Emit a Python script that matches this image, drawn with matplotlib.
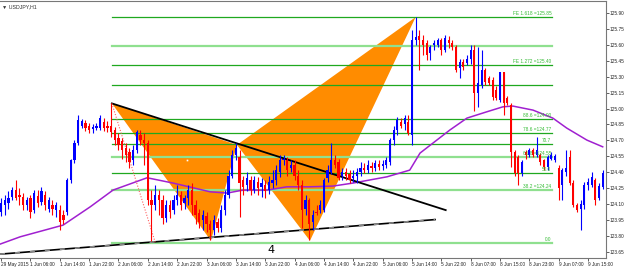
# USDJPY H1 chart with a harmonic pattern and fibonacci levels
import numpy as np
import matplotlib.pyplot as plt

# OHLC bars (H1), index 0 = 29 May 22:00
opens = [124.03, 124.09, 124.11, 124.17, 124.23, 124.19, 124.17, 124.09, 124.16, 124.05,
         124.18, 124.12, 124.19, 124.06, 124.09, 124.05, 124.05, 124.00, 124.03, 124.33,
         124.52, 124.68, 124.84, 124.86, 124.84, 124.81, 124.82, 124.82, 124.87, 124.84,
         124.84, 124.80, 124.72, 124.69, 124.63, 124.59, 124.52, 124.61, 124.75, 124.70,
         124.68, 124.14, 124.09, 124.19, 124.14, 123.97, 124.09, 124.05, 124.14, 124.19,
         124.11, 124.16, 124.23, 124.09, 124.02, 123.95, 123.99, 123.91, 123.86, 123.93,
         123.88, 124.05, 124.19, 124.37, 124.56, 124.54, 124.33, 124.28, 124.33, 124.23,
         124.31, 124.26, 124.28, 124.23, 124.30, 124.33, 124.40, 124.52, 124.52, 124.44,
         124.47, 124.37, 124.28, 124.06, 124.14, 123.93, 124.03, 124.05, 124.05, 124.35,
         124.40, 124.52, 124.50, 124.37, 124.40, 124.38, 124.35, 124.37, 124.40, 124.44,
         124.42, 124.46, 124.44, 124.48, 124.46, 124.47, 124.50, 124.70, 124.80, 124.87,
         124.85, 124.87, 124.75, 125.64, 125.68, 125.64, 125.62, 125.52, 125.60, 125.60,
         125.64, 125.55, 125.64, 125.62, 125.58, 125.38, 125.44, 125.43, 125.47, 125.55,
         125.15, 125.22, 125.36, 125.29, 125.27, 125.17, 125.08, 125.34, 125.10, 125.03,
         124.59, 124.54, 124.39, 124.59, 124.56, 124.61, 124.56, 124.56, 124.52, 124.45,
         124.53, 124.52, 124.44, 124.28, 124.40, 124.54, 124.30, 124.09, 124.06, 124.09,
         124.28, 124.28, 124.33, 124.16, 124.26]
highs = [124.16, 124.19, 124.22, 124.26, 124.33, 124.25, 124.21, 124.17, 124.19, 124.23,
         124.23, 124.26, 124.22, 124.17, 124.14, 124.12, 124.09, 124.05, 124.35, 124.53,
         124.70, 124.94, 124.90, 124.89, 124.86, 124.85, 124.86, 124.94, 124.91, 124.88,
         125.05, 124.83, 124.77, 124.72, 124.68, 124.63, 124.66, 124.80, 124.80, 124.77,
         124.70, 124.23, 124.28, 124.23, 124.19, 124.14, 124.14, 124.19, 124.28, 124.22,
         124.19, 124.28, 124.30, 124.14, 124.06, 124.05, 124.03, 123.95, 124.00, 123.97,
         124.09, 124.23, 124.42, 124.61, 124.68, 124.61, 124.37, 124.40, 124.37, 124.37,
         124.36, 124.35, 124.33, 124.37, 124.42, 124.47, 124.56, 124.56, 124.54, 124.52,
         124.52, 124.42, 124.33, 124.19, 124.16, 124.05, 124.09, 124.14, 124.35, 124.47,
         124.68, 124.56, 124.53, 124.44, 124.44, 124.42, 124.42, 124.44, 124.50, 124.49,
         124.52, 124.50, 124.52, 124.52, 124.52, 124.54, 124.72, 124.84, 124.92, 124.91,
         124.94, 124.94, 125.74, 125.86, 125.74, 125.69, 125.64, 125.60, 125.64, 125.66,
         125.66, 125.69, 125.68, 125.64, 125.60, 125.47, 125.47, 125.50, 125.60, 125.60,
         125.58, 125.55, 125.38, 125.31, 125.30, 125.21, 125.34, 125.34, 125.12, 125.05,
         124.61, 124.56, 124.52, 124.61, 124.63, 124.63, 124.73, 124.58, 124.53, 124.56,
         124.59, 124.57, 124.47, 124.44, 124.61, 124.61, 124.33, 124.11, 124.14, 124.31,
         124.35, 124.40, 124.35, 124.30, 124.42]
lows = [123.99, 124.00, 124.06, 124.14, 124.14, 124.09, 124.05, 124.05, 123.97, 124.02,
        124.07, 124.09, 124.05, 124.03, 124.00, 123.98, 123.86, 123.91, 124.00, 124.30,
        124.49, 124.66, 124.82, 124.79, 124.77, 124.77, 124.80, 124.80, 124.79, 124.78,
        124.73, 124.66, 124.61, 124.53, 124.50, 124.44, 124.47, 124.58, 124.66, 124.47,
        124.09, 123.75, 124.05, 124.00, 123.91, 123.93, 123.97, 124.01, 124.09, 124.05,
        124.06, 124.09, 124.00, 123.91, 123.88, 123.86, 123.84, 123.76, 123.81, 123.84,
        123.84, 124.00, 124.16, 124.35, 124.52, 123.98, 124.19, 124.22, 124.19, 124.21,
        124.19, 124.17, 124.16, 124.20, 124.25, 124.28, 124.36, 124.47, 124.37, 124.40,
        124.33, 124.23, 123.88, 124.00, 123.76, 123.86, 124.00, 124.02, 124.03, 124.31,
        124.38, 124.44, 124.33, 124.33, 124.33, 124.30, 124.31, 124.30, 124.37, 124.39,
        124.39, 124.40, 124.41, 124.42, 124.42, 124.44, 124.47, 124.66, 124.75, 124.82,
        124.80, 124.75, 124.66, 125.60, 125.36, 125.50, 125.46, 125.46, 125.55, 125.58,
        125.50, 125.53, 125.57, 125.55, 125.34, 125.29, 125.36, 125.41, 125.42, 124.98,
        125.01, 125.19, 125.22, 125.22, 125.08, 125.08, 125.06, 124.94, 125.03, 124.45,
        124.37, 124.28, 124.37, 124.53, 124.54, 124.54, 124.54, 124.47, 124.42, 124.42,
        124.52, 124.50, 124.14, 124.14, 124.37, 124.28, 124.07, 124.03, 123.86, 124.06,
        124.23, 124.26, 124.09, 124.14, 124.24]
closes = [124.11, 124.14, 124.16, 124.23, 124.16, 124.17, 124.09, 124.14, 124.03, 124.21,
          124.11, 124.22, 124.09, 124.14, 124.06, 124.09, 123.93, 123.95, 124.33, 124.52,
          124.68, 124.89, 124.88, 124.82, 124.80, 124.83, 124.84, 124.91, 124.82, 124.82,
          124.78, 124.70, 124.66, 124.61, 124.56, 124.50, 124.61, 124.78, 124.70, 124.68,
          124.14, 124.09, 124.19, 124.14, 123.97, 124.09, 124.03, 124.14, 124.19, 124.09,
          124.16, 124.23, 124.09, 124.00, 123.93, 124.00, 123.91, 123.86, 123.95, 123.88,
          124.05, 124.19, 124.37, 124.56, 124.63, 124.30, 124.26, 124.35, 124.23, 124.33,
          124.25, 124.30, 124.22, 124.31, 124.33, 124.42, 124.52, 124.53, 124.42, 124.47,
          124.37, 124.28, 124.05, 124.14, 123.91, 124.00, 124.02, 124.09, 124.33, 124.42,
          124.52, 124.47, 124.35, 124.40, 124.37, 124.33, 124.37, 124.40, 124.44, 124.42,
          124.47, 124.44, 124.49, 124.45, 124.48, 124.52, 124.70, 124.80, 124.89, 124.84,
          124.91, 124.77, 125.64, 125.67, 125.64, 125.60, 125.50, 125.58, 125.62, 125.64,
          125.55, 125.66, 125.62, 125.58, 125.36, 125.44, 125.39, 125.47, 125.55, 125.15,
          125.24, 125.36, 125.25, 125.24, 125.11, 125.10, 125.34, 125.05, 125.05, 124.59,
          124.39, 124.39, 124.50, 124.56, 124.61, 124.56, 124.61, 124.50, 124.45, 124.54,
          124.56, 124.55, 124.25, 124.42, 124.44, 124.30, 124.09, 124.05, 124.10, 124.28,
          124.31, 124.36, 124.14, 124.27, 124.39]

# moving average, read at a few bars
ma_x = [-0.3, 5.2, 16.9, 24.3, 30.5, 39.8, 46.9, 57, 61.6, 65.9, 72.5, 77.9, 84.2, 90.5,
        95.9, 105.2, 111.4, 114.2, 122.3, 127, 132.4, 136.8, 139.5, 145, 150.4, 154.2, 159.7, 164]
ma_y = [123.725, 123.794, 123.904, 124.076, 124.233, 124.349, 124.299, 124.217, 124.205,
        124.233, 124.233, 124.264, 124.264, 124.271, 124.299, 124.358, 124.421, 124.581,
        124.797, 124.910, 124.969, 125.016, 125.023, 124.985, 124.910, 124.816, 124.703, 124.640]

# fibonacci / expansion levels
fib_prices = [125.86, 125.59, 125.405, 125.217, 124.90, 124.77, 124.663, 124.546, 124.39, 124.233, 123.732]
fib_labels = ['FE 1.618 =125.85', '', 'FE 1.272 =125.40', '', '88.6 =124.90', '78.6 =124.77',
              '70.7', '61.8 =124.55', '50.0', '38.2 =124.24', '0.0']
fib_light = [False, True, False, False, False, False, False, True, False, True, True]
fib_start, fib_end = 30.2, 150.2

# harmonic pattern points (bar, price)
px = [30.2, 57.2, 64.3, 113.0, 84.2]
py = [125.048, 123.757, 124.658, 125.859, 123.757]

tick_pos = list(range(0, 161, 8))
tick_lbl = ['29 May 2015', '1 Jun 06:00', '1 Jun 14:00', '1 Jun 22:00', '2 Jun 06:00',
            '2 Jun 14:00', '2 Jun 22:00', '3 Jun 06:00', '3 Jun 14:00', '3 Jun 22:00',
            '4 Jun 06:00', '4 Jun 14:00', '4 Jun 22:00', '5 Jun 06:00', '5 Jun 14:00',
            '5 Jun 22:00', '8 Jun 07:00', '8 Jun 15:00', '8 Jun 23:00', '9 Jun 07:00',
            '9 Jun 15:00']
y_ticks = [125.90, 125.75, 125.60, 125.45, 125.30, 125.15, 125.00, 124.85,
           124.70, 124.55, 124.40, 124.25, 124.10, 123.95, 123.80, 123.65]

small = ['Liberation Sans', 'DejaVu Sans']

fig = plt.figure(figsize=(6.25, 2.68), dpi=100)
ax = fig.add_axes([0.0, 0.037, 0.9696, 0.959])

# orange triangles XAB and BCD
ax.fill([px[0], px[1], px[2]], [py[0], py[1], py[2]], color='#FF8C00', lw=0, zorder=1)
ax.fill([px[2], px[3], px[4]], [py[2], py[3], py[4]], color='#FF8C00', lw=0, zorder=1)
ax.plot([185.7 / 3.67], [124.52], marker='s', ms=1.2, color='white', mew=0, zorder=2)

# fib lines
for p, lab, light in zip(fib_prices, fib_labels, fib_light):
    if light:
        ax.plot([fib_start, fib_end], [p, p], color='#8FE08F', lw=1.6, zorder=2)
    else:
        ax.plot([fib_start, fib_end], [p, p], color='#1FA81F', lw=0.9, zorder=2)
    if lab:
        ax.text(fib_end - 0.2, p + 0.012, lab, fontsize=3.4, color='#33BB33',
                family=small, ha='right', va='bottom', zorder=6)

# trend lines
ax.plot([30.2, 121.2], [125.048, 124.045], color='black', lw=1.3, zorder=4)
ax.plot([-0.3, 118.3], [123.631, 123.956], color='black', lw=1.2, zorder=4)
ax.plot([-0.3, 118.3], [123.631, 123.956], color='#888888', lw=1.2, ls=(0, (3, 6)), zorder=4)
ax.plot([30.2, 42.0], [125.048, 123.744], color='#FF6060', lw=0.8, ls=(0, (1, 1.5)), zorder=4)

# candles
idx = np.arange(len(opens))
o = np.array(opens)
c = np.array(closes)
up = c >= o
cols = np.where(up, '#0000FF', '#FF0000')
ax.vlines(idx, lows, highs, colors=cols, lw=0.8, zorder=5)
body = np.where(np.abs(c - o) < 0.008, 0.008, c - o)
ax.bar(idx, body, bottom=o, width=0.6, color=cols, lw=0, zorder=5)

# moving average
ax.plot(ma_x, ma_y, color='#A020D0', lw=1.1, zorder=3)

ax.text(73.5, 123.62, '4', fontsize=8, color='black', ha='center', va='bottom', zorder=6)

ax.set_xlim(-0.3, 164.9)
ax.set_ylim(123.594, 126.01)
ax.set_xticks(tick_pos)
ax.set_xticklabels(tick_lbl, ha='left')
ax.set_yticks(y_ticks)
ax.set_yticklabels(['%.2f' % v for v in y_ticks])
ax.yaxis.tick_right()
for t in ax.get_xticklabels() + ax.get_yticklabels():
    t.set_family(small)
    t.set_fontsize(3.4)
    t.set_color('#222222')
ax.tick_params(axis='both', length=2, width=0.6, pad=0.6, colors='#444444')
ax.tick_params(axis='both', labelcolor='#222222')
for s in ['left', 'right', 'top', 'bottom']:
    ax.spines[s].set_color('#777777')
    ax.spines[s].set_linewidth(0.8)
ax.spines['left'].set_visible(False)

fig.text(0.004, 0.985, '\u25bc USDJPY,H1', fontsize=3.8, color='#333333', ha='left', va='top',
         family=small)

fig.savefig('out.png', dpi=100, facecolor='white')
